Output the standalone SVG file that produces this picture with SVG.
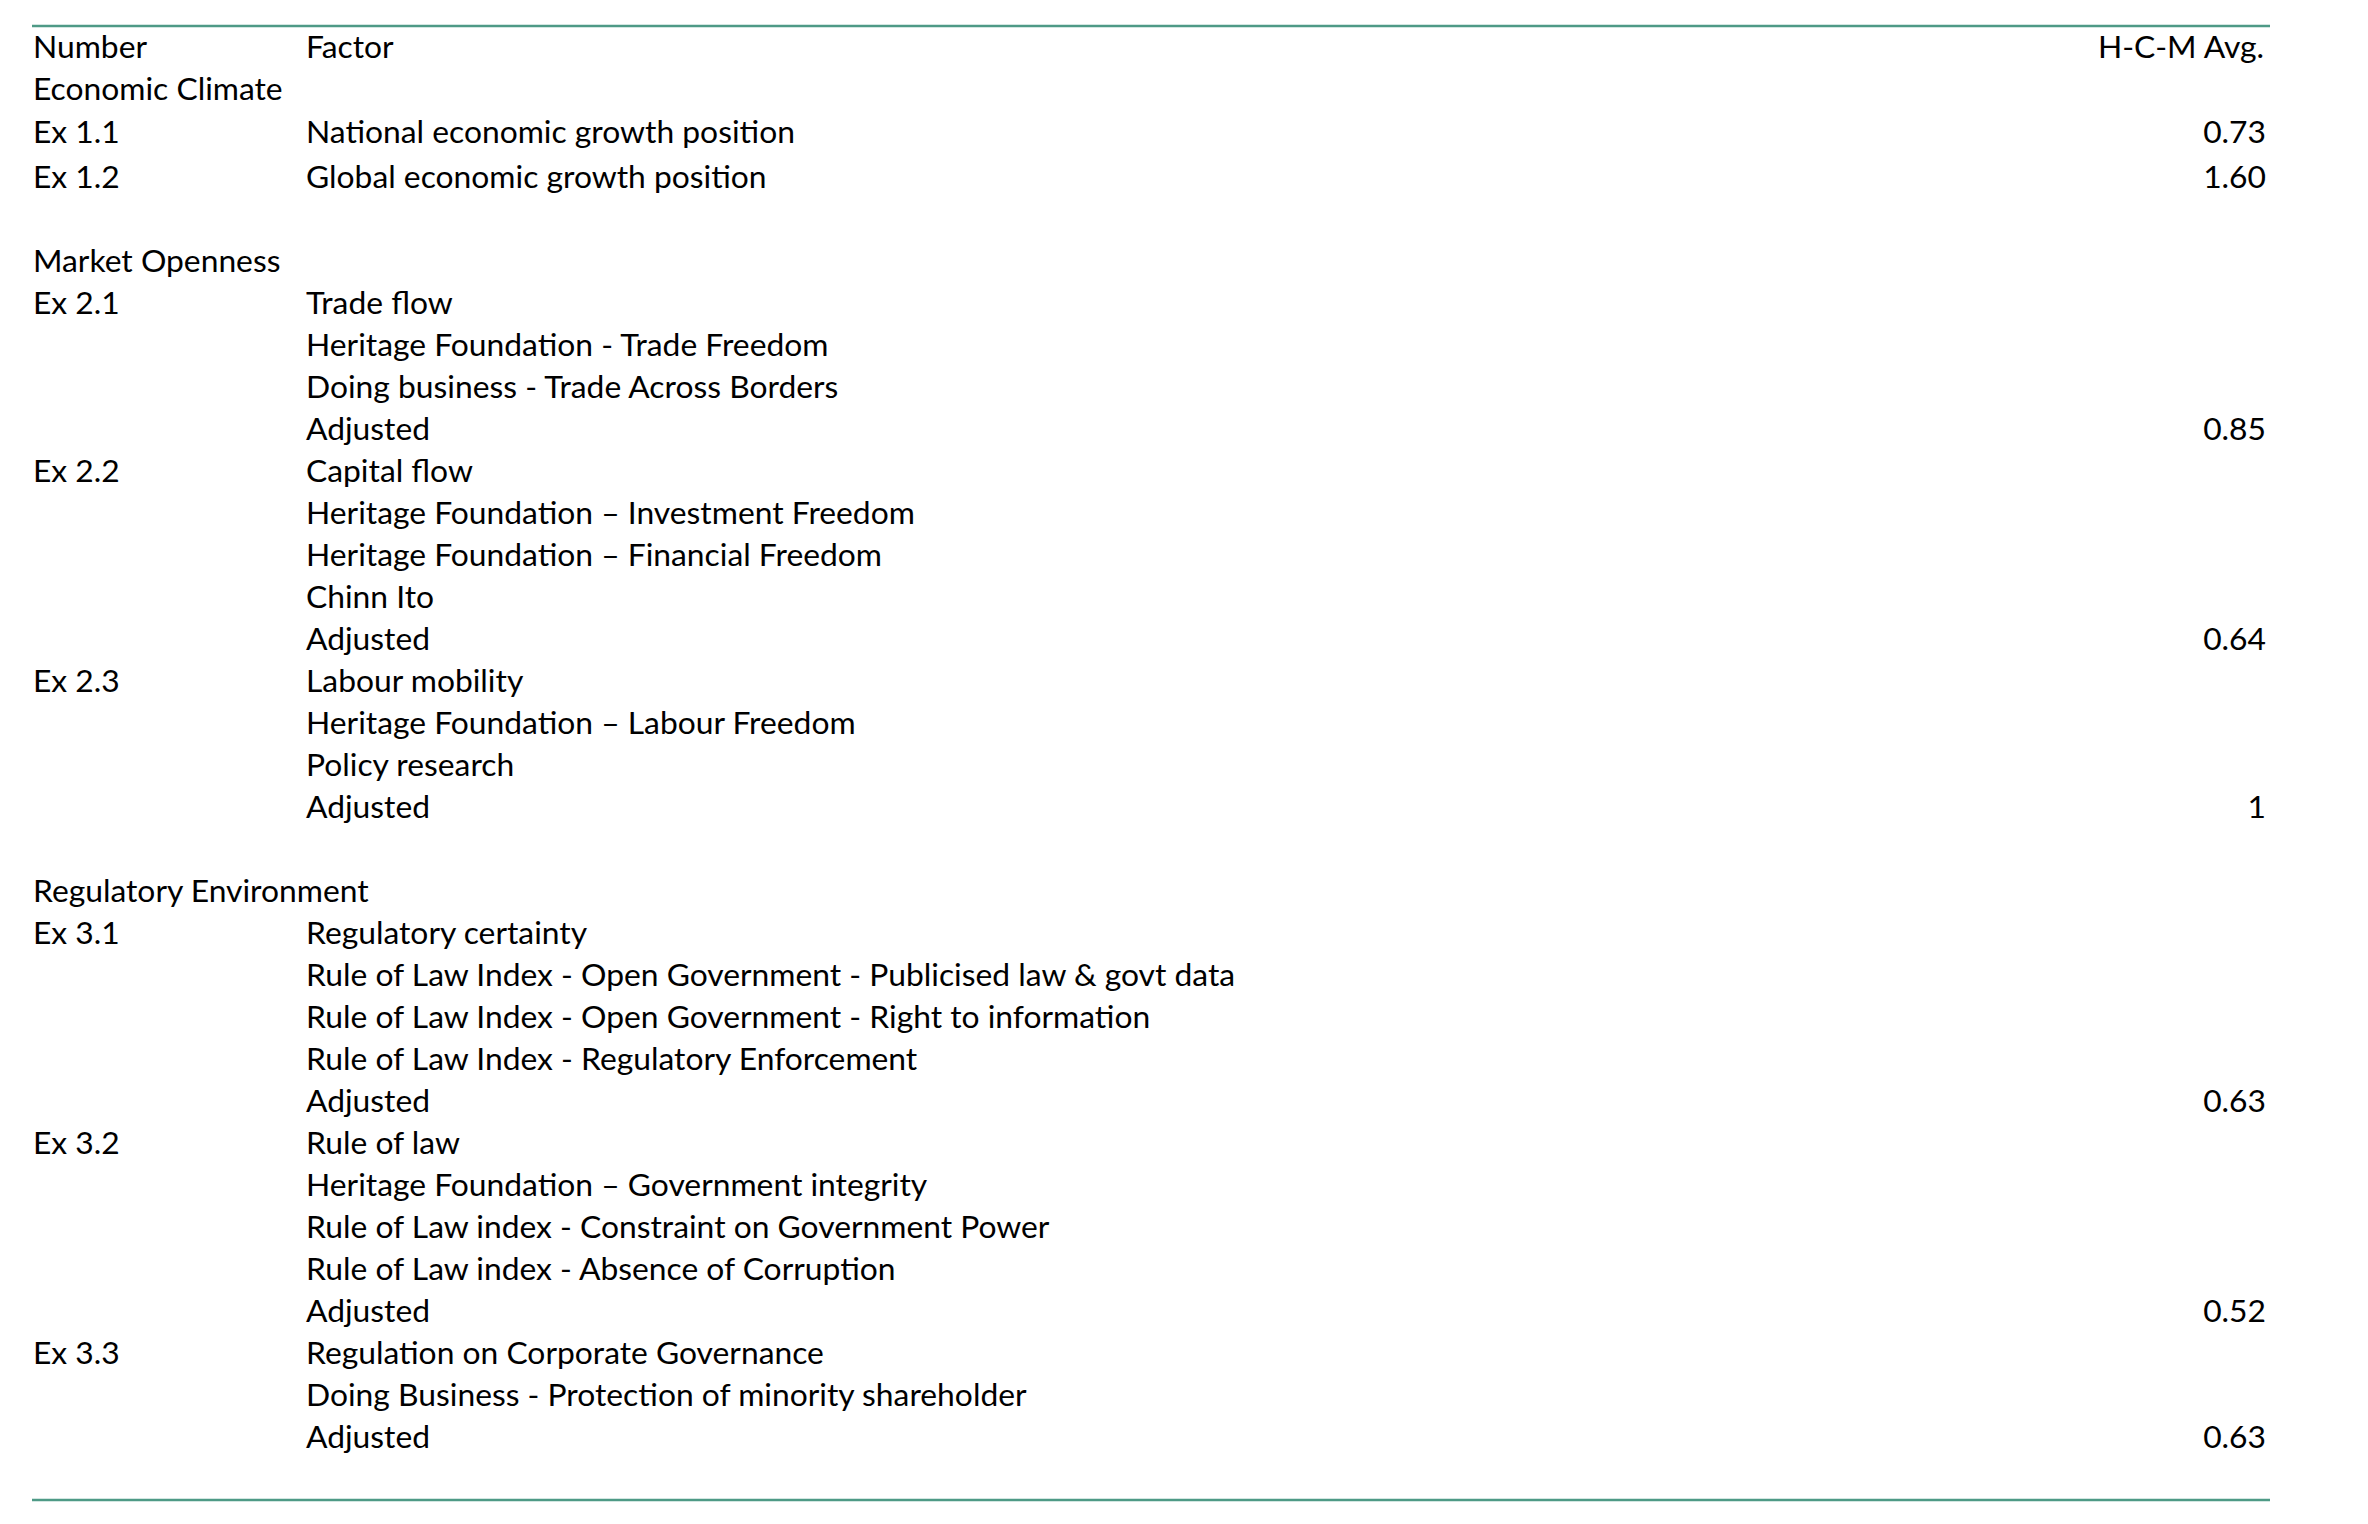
<svg xmlns="http://www.w3.org/2000/svg" width="2368" height="1524" viewBox="0 0 2368 1524">
<style>
text{font-family:Lato,"Liberation Sans",sans-serif;font-size:31.8px;fill:#000}
.v{text-anchor:end}
.rule{stroke:#4e9a86;stroke-width:2.5}
</style>
<rect width="2368" height="1524" fill="#fff"/>
<g id="rules">
<line class="rule" x1="32" y1="26" x2="2270" y2="26"/>
<line class="rule" x1="32" y1="1500" x2="2270" y2="1500"/>
</g>
<g id="header"><text x="33" y="58">Number</text><text x="306" y="58">Factor</text><text class="v" x="2264" y="58">H-C-M Avg.</text></g>
<g id="sec1"><text x="33" y="100">Economic Climate</text></g>
<g id="ex11"><text x="33" y="143">Ex 1.1</text><text x="306" y="143">National economic growth position</text><text class="v" x="2266" y="143">0.73</text></g>
<g id="ex12"><text x="33" y="188">Ex 1.2</text><text x="306" y="188">Global economic growth position</text><text class="v" x="2266" y="188">1.60</text></g>
<g id="sec2"><text x="33" y="272">Market Openness</text></g>
<g id="ex21"><text x="33" y="314">Ex 2.1</text><text x="306" y="314">Trade flow</text>
<text x="306" y="356">Heritage Foundation - Trade Freedom</text>
<text x="306" y="398">Doing business - Trade Across Borders</text>
<text x="306" y="440">Adjusted</text><text class="v" x="2266" y="440">0.85</text></g>
<g id="ex22"><text x="33" y="482">Ex 2.2</text><text x="306" y="482">Capital flow</text>
<text x="306" y="524">Heritage Foundation – Investment Freedom</text>
<text x="306" y="566">Heritage Foundation – Financial Freedom</text>
<text x="306" y="608">Chinn Ito</text>
<text x="306" y="650">Adjusted</text><text class="v" x="2266" y="650">0.64</text></g>
<g id="ex23"><text x="33" y="692">Ex 2.3</text><text x="306" y="692">Labour mobility</text>
<text x="306" y="734">Heritage Foundation – Labour Freedom</text>
<text x="306" y="776">Policy research</text>
<text x="306" y="818">Adjusted</text><text class="v" x="2266" y="818">1</text></g>
<g id="sec3"><text x="33" y="902">Regulatory Environment</text></g>
<g id="ex31"><text x="33" y="944">Ex 3.1</text><text x="306" y="944">Regulatory certainty</text>
<text x="306" y="986">Rule of Law Index - Open Government - Publicised law &amp; govt data</text>
<text x="306" y="1028">Rule of Law Index - Open Government - Right to information</text>
<text x="306" y="1070">Rule of Law Index - Regulatory Enforcement</text>
<text x="306" y="1112">Adjusted</text><text class="v" x="2266" y="1112">0.63</text></g>
<g id="ex32"><text x="33" y="1154">Ex 3.2</text><text x="306" y="1154">Rule of law</text>
<text x="306" y="1196">Heritage Foundation – Government integrity</text>
<text x="306" y="1238">Rule of Law index - Constraint on Government Power</text>
<text x="306" y="1280">Rule of Law index - Absence of Corruption</text>
<text x="306" y="1322">Adjusted</text><text class="v" x="2266" y="1322">0.52</text></g>
<g id="ex33"><text x="33" y="1364">Ex 3.3</text><text x="306" y="1364">Regulation on Corporate Governance</text>
<text x="306" y="1406">Doing Business - Protection of minority shareholder</text>
<text x="306" y="1448">Adjusted</text><text class="v" x="2266" y="1448">0.63</text></g>
</svg>
